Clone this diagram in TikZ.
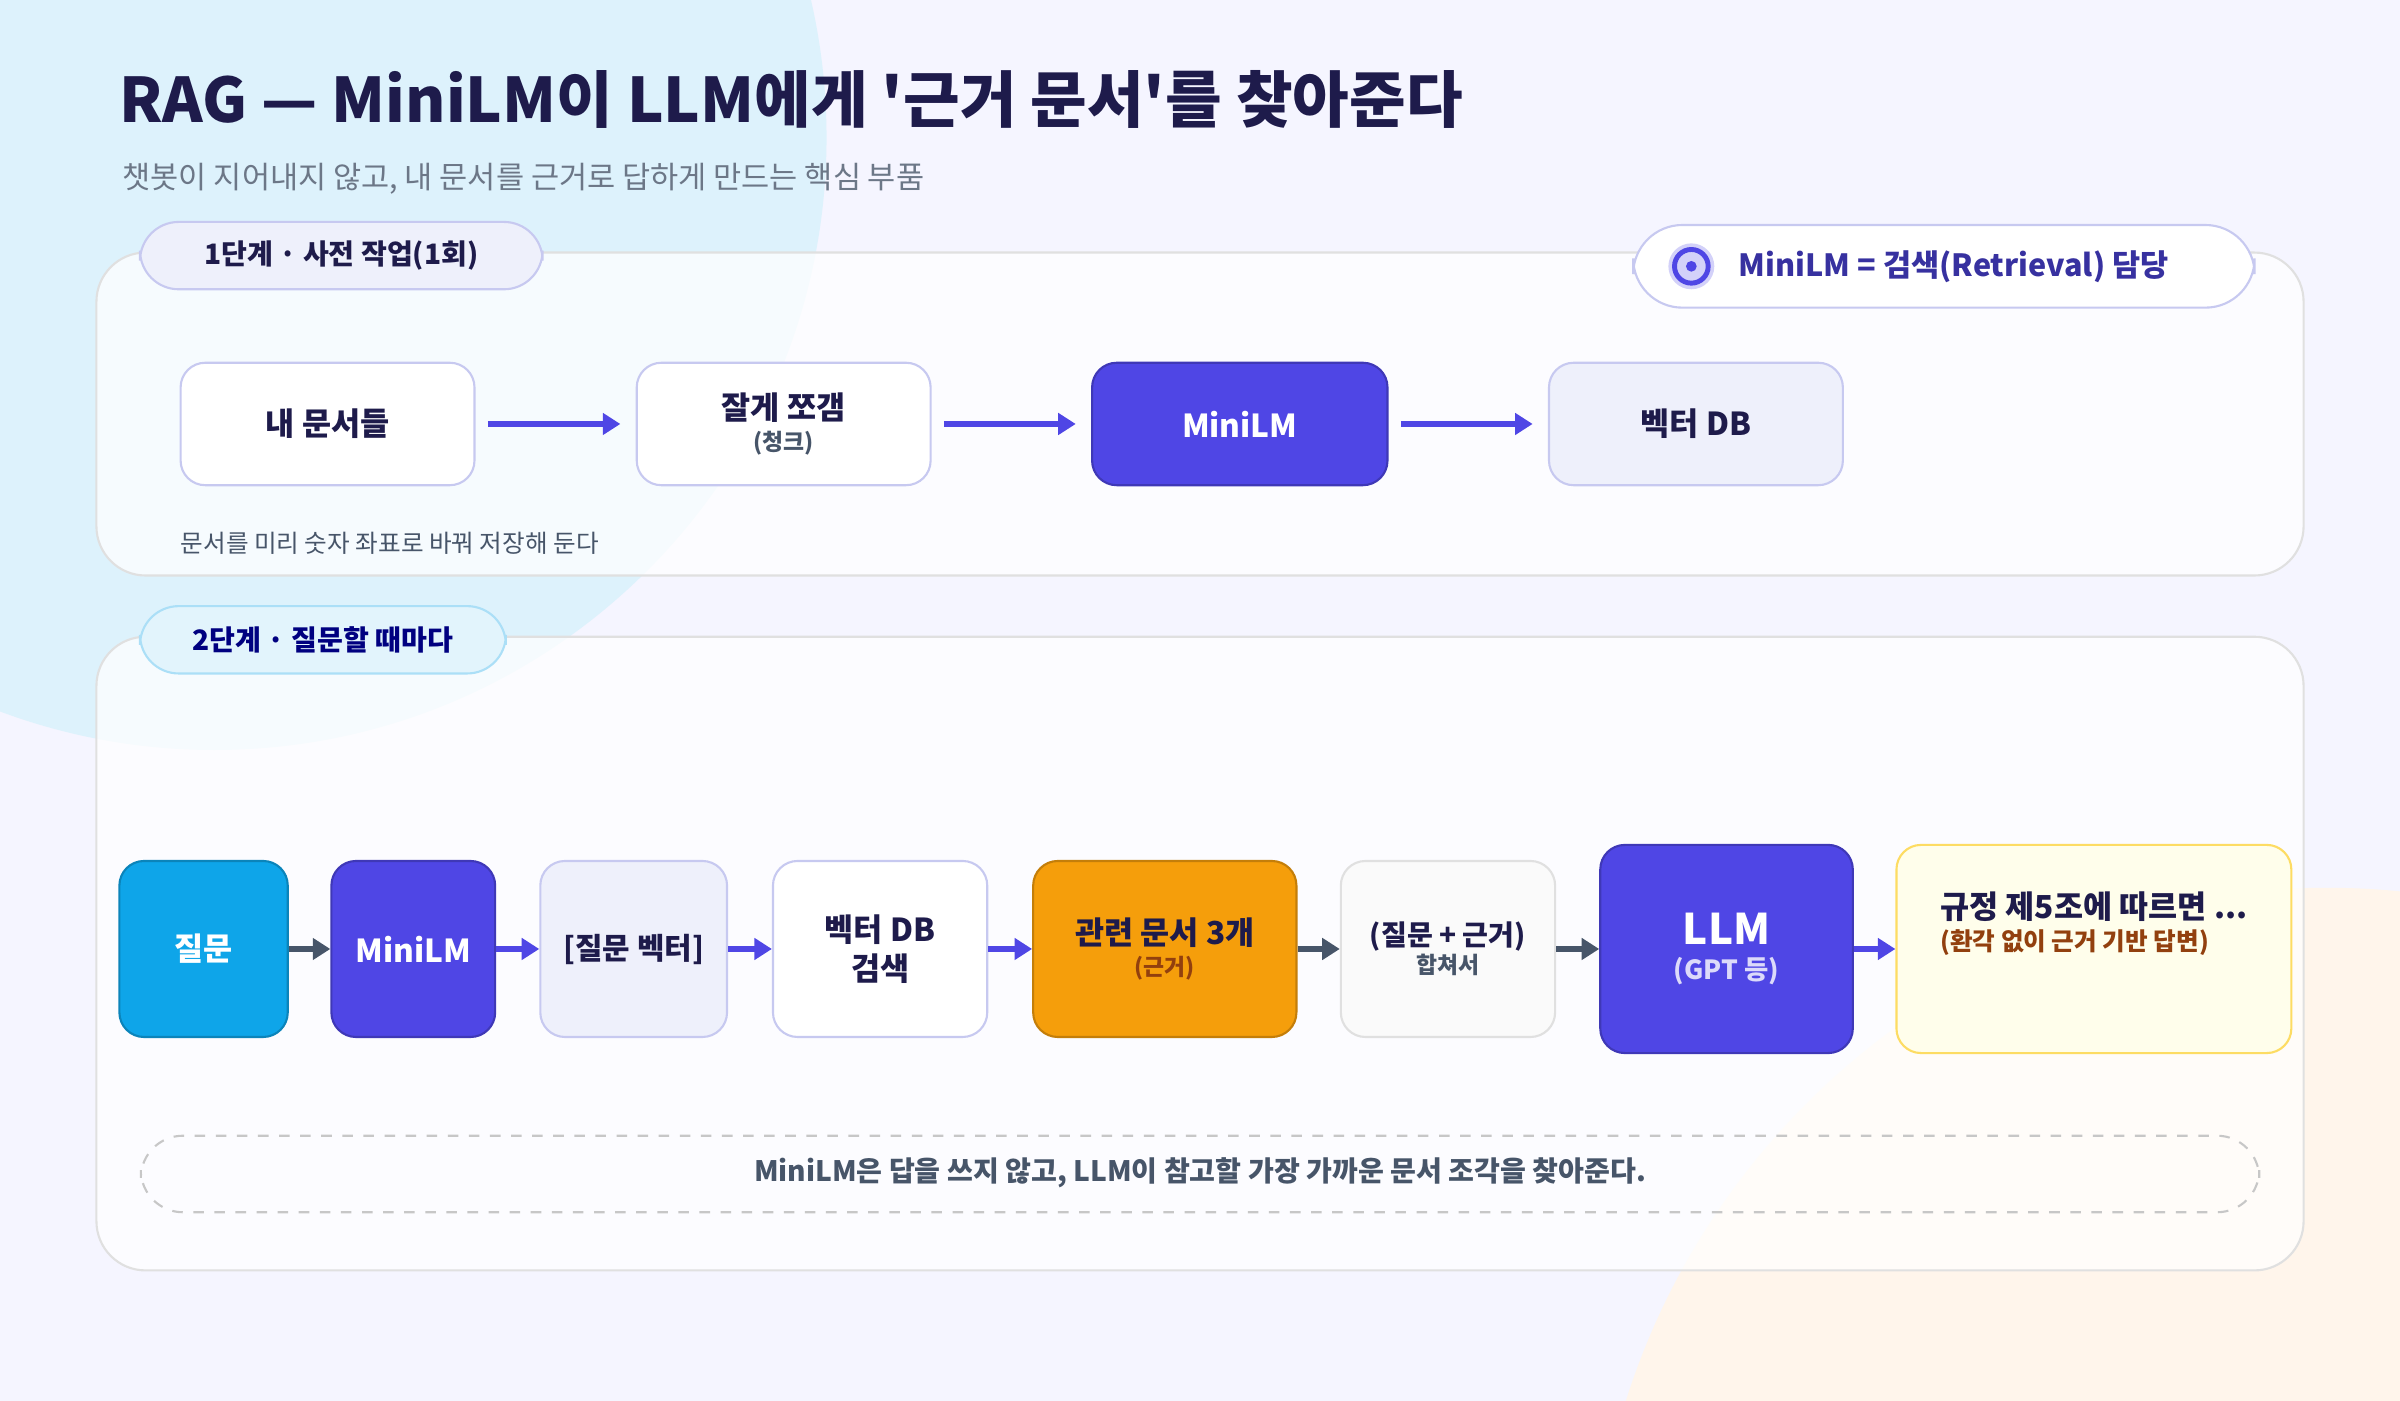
\documentclass[tikz,border=0pt]{standalone}
\usepackage{fontspec}
\setmainfont{Noto Sans CJK KR}
\usepackage{tikz}
\usetikzlibrary{positioning, arrows.meta, calc}
\definecolor{indigo}{HTML}{4F46E5}
\definecolor{navy}{HTML}{1E1B4B}
\definecolor{slate}{HTML}{475569}
\definecolor{lav}{HTML}{C7C9F0}
\definecolor{lavfill}{HTML}{EEF0FB}
\definecolor{sky}{HTML}{0EA5E9}
\definecolor{amber}{HTML}{F59E0B}
\definecolor{brown}{HTML}{92400E}
\newcommand{\Subtext}[2]{{\fontsize{6.5}{8}\selectfont\color{#1}#2}}
\tikzset{
    panel/.style={draw=black!12, fill=white, fill opacity=0.75, text opacity=1, rounded corners=14pt, line width=0.6pt},
    tag/.style={rounded corners=11pt, line width=0.6pt, font=\fontsize{8}{10}\selectfont\bfseries},
    box/.style={rounded corners=7pt, line width=0.6pt, align=center, font=\fontsize{9}{12}\selectfont\bfseries},
    plain/.style={box, draw=lav, fill=white, text=navy},
    soft/.style={box, draw=lav, fill=lavfill, text=navy},
    strong/.style={box, draw=indigo!80!black, fill=indigo, text=white},
    flow/.style={-{Triangle[length=5pt,width=6pt]}, line width=1.6pt, draw=indigo},
    gflow/.style={flow, draw=slate},
}
\begin{document}
\begin{tikzpicture}[x=0.01531cm, y=-0.01531cm]
    \useasboundingbox (0,0) rectangle (1568,915);
    \fill[color=blue!4!white] (0,0) rectangle (1568,915);
    \begin{scope}
      \clip (0,0) rectangle (1568,915);
      \fill[color=sky!14!white] (140,90) circle (400);
      \fill[color=orange!8!white] (1520,1060) circle (480);
    \end{scope}

    % title
    \node[anchor=west, text=navy, font=\fontsize{17.5}{22}\selectfont\bfseries] (title) at (70,65) {RAG — MiniLM이 LLM에게 \textquotesingle 근거 문서\textquotesingle 를 찾아준다};
    \node[anchor=west, text=slate!80, font=\fontsize{8.7}{11}\selectfont] (subtitle) at (72,117) {챗봇이 지어내지 않고, 내 문서를 근거로 답하게 만드는 핵심 부품};

    % stage 1
    \draw[panel] (63,165) rectangle (1505,376);
    \node[tag, draw=lav, fill=lavfill, text=navy, minimum width=263*0.01531cm, minimum height=44*0.01531cm] (tag1) at (223,167) {1단계 · 사전 작업(1회)};
    \node[tag, draw=lav, fill=white, minimum width=406*0.01531cm, minimum height=54*0.01531cm, rounded corners=14pt] (badge) at (1270,174) {};
    \fill[indigo!25] (1105,174) circle (15);
    \draw[indigo, line width=1.4pt] (1105,174) circle (11);
    \fill[indigo] (1105,174) circle (3.5);
    \node[anchor=west, text=indigo!70!black, font=\fontsize{8.7}{11}\selectfont\bfseries] (badgetext) at (1128,174) {MiniLM = 검색(Retrieval) 담당};

    \node[plain, minimum width=192*0.01531cm, minimum height=80*0.01531cm] (docs) at (214,277) {내 문서들};
    \node[plain, minimum width=192*0.01531cm, minimum height=80*0.01531cm] (chunk) at (512,277) {잘게 쪼갬\\[-3pt]\Subtext{slate}{(청크)}};
    \node[strong, minimum width=193*0.01531cm, minimum height=80*0.01531cm] (enc) at (810,277) {MiniLM};
    \node[soft, minimum width=192*0.01531cm, minimum height=80*0.01531cm] (vdb) at (1108,277) {벡터 DB};
    \draw[flow] ($(docs.east)+(8,0)$) -- ($(chunk.west)+(-10,0)$);
    \draw[flow] ($(chunk.east)+(8,0)$) -- ($(enc.west)+(-10,0)$);
    \draw[flow] ($(enc.east)+(8,0)$) -- ($(vdb.west)+(-10,0)$);
    \node[anchor=west, text=slate, font=\fontsize{7}{9}\selectfont] (note1) at (110,355) {문서를 미리 숫자 좌표로 바꿔 저장해 둔다};

    % stage 2
    \draw[panel] (63,416) rectangle (1505,830);
    \node[tag, draw=sky!35, fill=sky!12, text=blue!50!black, minimum width=239*0.01531cm, minimum height=44*0.01531cm] (tag2) at (211,418) {2단계 · 질문할 때마다};

    \node[box, draw=sky!80!black, fill=sky, text=white, minimum width=110*0.01531cm, minimum height=115*0.01531cm] (q) at (133,620) {질문};
    \node[strong, minimum width=107*0.01531cm, minimum height=115*0.01531cm] (enc2) at (270,620) {MiniLM};
    \node[soft, minimum width=122*0.01531cm, minimum height=115*0.01531cm, font=\fontsize{8.5}{11}\selectfont\bfseries] (qvec) at (414,620) {[질문 벡터]};
    \node[plain, minimum width=140*0.01531cm, minimum height=115*0.01531cm] (search) at (575,620) {벡터 DB\\[-1pt]검색};
    \node[box, draw=amber!80!black, fill=amber, text=navy, minimum width=172*0.01531cm, minimum height=115*0.01531cm] (ctx) at (761,620) {관련 문서 3개\\[-3pt]\Subtext{brown}{(근거)}};
    \node[box, draw=black!12, fill=black!2, text=navy, minimum width=140*0.01531cm, minimum height=115*0.01531cm, font=\fontsize{8}{10}\selectfont\bfseries] (merge) at (946,620) {(질문 + 근거)\\[-2pt]\Subtext{slate}{합쳐서}};
    \node[strong, minimum width=165*0.01531cm, minimum height=136*0.01531cm, font=\fontsize{12}{14}\selectfont\bfseries] (llm) at (1128,620) {LLM\\[-4pt]{\fontsize{7.5}{9}\selectfont\color{white!80!indigo}(GPT 등)}};
    \node[box, draw=yellow!60!orange!60, fill=yellow!8, minimum width=258*0.01531cm, minimum height=136*0.01531cm, align=left, text=navy] (ans) at (1368,620) {규정 제5조에 따르면 ...\\[-3pt]{\fontsize{7}{9}\selectfont\color{brown}(환각 없이 근거 기반 답변)}\\[4pt]};

    \draw[gflow] (q.east) -- (enc2.west);
    \draw[flow] (enc2.east) -- (qvec.west);
    \draw[flow] (qvec.east) -- (search.west);
    \draw[flow] (search.east) -- (ctx.west);
    \draw[gflow] (ctx.east) -- (merge.west);
    \draw[gflow] (merge.east) -- (llm.west);
    \draw[flow] (llm.east) -- (ans.west);

    \draw[dashed, draw=black!22, rounded corners=12pt, line width=0.6pt] (92,742) rectangle (1476,792);
    \node[text=slate, font=\fontsize{8}{10}\selectfont\bfseries] (note2) at (784,766) {MiniLM은 답을 쓰지 않고, LLM이 참고할 가장 가까운 문서 조각을 찾아준다.};
\end{tikzpicture}
\end{document}
